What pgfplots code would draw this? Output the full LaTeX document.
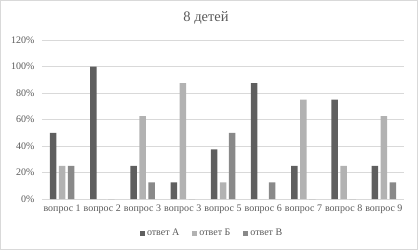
\documentclass[border=0pt]{standalone}
\usepackage{fontspec}
\setmainfont{Liberation Serif}
\usepackage{pgfplots}
\pgfplotsset{compat=1.18}
\definecolor{cA}{HTML}{5F5F5F}
\definecolor{cB}{HTML}{B2B2B2}
\definecolor{cC}{HTML}{898989}
\definecolor{txt}{HTML}{595959}
\definecolor{gridc}{HTML}{D9D9D9}
\begin{document}
\begin{tikzpicture}[x=1pt,y=1pt]
\path[use as bounding box] (0,0) rectangle (418,250);
\draw[gridc, line width=0.8pt] (0.5,0.5) rectangle (417.5,249.5);
\begin{axis}[at={(42pt,51pt)}, anchor=south west, scale only axis,
  width=362pt, height=159pt,
  ybar=2.5pt, bar width=6.5pt,
  xmin=-0.5, xmax=8.5, ymin=0, ymax=120,
  xtick={0,...,8},
  xticklabels={вопрос 1,вопрос 2,вопрос 3,вопрос 3,вопрос 5,вопрос 6,вопрос 7,вопрос 8,вопрос 9},
  ytick={0,20,...,120},
  yticklabel={\pgfmathprintnumber{\tick}\%},
  /pgf/number format/assume math mode=true,
  ymajorgrids, grid style={gridc, line width=0.7pt},
  axis line style={draw=none},
  major tick length=0pt,
  tick label style={font=\fontsize{10}{12}\selectfont, text=txt},
  yticklabel style={xshift=-4pt},
  xticklabel style={yshift=-2pt},
  legend style={at={(0.47,-0.214)}, anchor=center, draw=none, fill=none,
    legend columns=3, font=\fontsize{10}{12}\selectfont, text=txt,
    /tikz/every even column/.append style={column sep=11pt}},
  legend image code/.code={\fill[#1] (0pt,-2.5pt) rectangle (5pt,2.5pt);},
]
\addplot[fill=cA, draw=none] coordinates {(0,50) (1,100) (2,25) (3,12.5) (4,37.5) (5,87.5) (6,25) (7,75) (8,25)};
\addplot[fill=cB, draw=none] coordinates {(0,25) (1,0) (2,62.5) (3,87.5) (4,12.5) (5,0) (6,75) (7,25) (8,62.5)};
\addplot[fill=cC, draw=none] coordinates {(0,25) (1,0) (2,12.5) (3,0) (4,50) (5,12.5) (6,0) (7,0) (8,12.5)};
\legend{ответ А, ответ Б, ответ В}
\end{axis}
\node[text=txt, font=\fontsize{14.5}{16}\selectfont] at (206,232) {8 детей};
\end{tikzpicture}
\end{document}
